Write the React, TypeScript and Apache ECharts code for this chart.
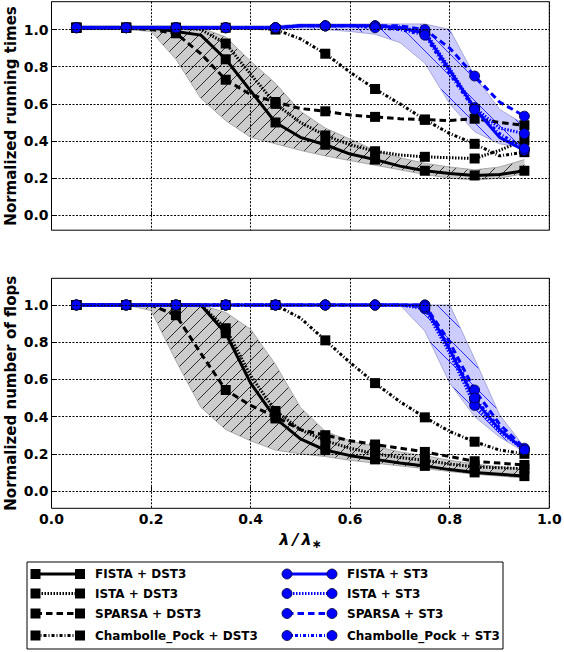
import React, { useEffect, useRef } from "react";
import * as echarts from "echarts";

const X = [0.05, 0.1, 0.15, 0.2, 0.25, 0.3, 0.35, 0.4, 0.45, 0.5, 0.55, 0.6, 0.65, 0.7, 0.75, 0.8, 0.85, 0.9, 0.95];
const Y_TICKS = [0, 0.2, 0.4, 0.6, 0.8, 1.0];

// Normalized running times (top panel)
const FISTA_DST3_TIME = [1.01, 1.01, 1.01, 1.01, 0.99, 0.97, 0.84, 0.67, 0.5, 0.42, 0.38, 0.33, 0.3, 0.265, 0.24, 0.225, 0.215, 0.22, 0.24];
const ISTA_DST3_TIME = [1.01, 1.01, 1.01, 1.01, 1.01, 1.0, 0.925, 0.76, 0.6, 0.5, 0.43, 0.38, 0.345, 0.325, 0.315, 0.31, 0.306, 0.35, 0.405];
const SPARSA_DST3_TIME = [1.01, 1.01, 1.01, 1.0, 0.98, 0.87, 0.73, 0.65, 0.61, 0.575, 0.56, 0.54, 0.53, 0.52, 0.515, 0.51, 0.52, 0.5, 0.485];
const CP_DST3_TIME = [1.01, 1.01, 1.01, 1.01, 1.01, 1.01, 1.01, 1.01, 1.0, 0.95, 0.87, 0.77, 0.68, 0.6, 0.515, 0.44, 0.385, 0.32, 0.34];
const FISTA_ST3_TIME = [1.01, 1.01, 1.01, 1.01, 1.01, 1.01, 1.01, 1.01, 1.01, 1.02, 1.02, 1.02, 1.02, 1.01, 0.98, 0.78, 0.575, 0.42, 0.35];
const ISTA_ST3_TIME = [1.01, 1.01, 1.01, 1.01, 1.01, 1.01, 1.01, 1.01, 1.01, 1.02, 1.02, 1.02, 1.02, 1.01, 0.99, 0.79, 0.58, 0.47, 0.44];
const SPARSA_ST3_TIME = [1.01, 1.01, 1.01, 1.01, 1.01, 1.01, 1.01, 1.01, 1.01, 1.02, 1.02, 1.02, 1.02, 1.02, 1.0, 0.9, 0.75, 0.61, 0.534];
const CP_ST3_TIME = [1.01, 1.01, 1.01, 1.01, 1.01, 1.01, 1.01, 1.01, 1.01, 1.02, 1.02, 1.02, 1.01, 1.0, 0.97, 0.76, 0.57, 0.44, 0.36];
const GREY_LO_TIME = [1.0, 1.0, 1.0, 0.99, 0.84, 0.63, 0.51, 0.42, 0.385, 0.35, 0.32, 0.295, 0.27, 0.245, 0.22, 0.2, 0.19, 0.2, 0.225];
const GREY_HI_TIME = [1.02, 1.02, 1.02, 1.02, 1.02, 1.01, 0.96, 0.83, 0.71, 0.56, 0.47, 0.41, 0.35, 0.31, 0.28, 0.26, 0.245, 0.26, 0.3];
const BLUE_LO_TIME = [1.0, 1.0, 1.0, 1.0, 1.0, 1.0, 1.0, 1.0, 1.0, 1.0, 1.0, 0.99, 0.975, 0.93, 0.82, 0.6, 0.45, 0.385, 0.365];
const BLUE_HI_TIME = [1.02, 1.02, 1.02, 1.02, 1.02, 1.02, 1.02, 1.02, 1.02, 1.03, 1.03, 1.03, 1.03, 1.03, 1.03, 1.0, 0.75, 0.57, 0.49];

// Normalized number of flops (bottom panel)
const FISTA_DST3_FLOPS = [1.0, 1.0, 1.0, 1.0, 1.0, 1.0, 0.848, 0.58, 0.39, 0.28, 0.22, 0.19, 0.17, 0.15, 0.135, 0.115, 0.1, 0.09, 0.08];
const ISTA_DST3_FLOPS = [1.0, 1.0, 1.0, 1.0, 1.0, 1.0, 0.875, 0.62, 0.43, 0.33, 0.27, 0.23, 0.2, 0.18, 0.165, 0.145, 0.13, 0.125, 0.12];
const SPARSA_DST3_FLOPS = [1.0, 1.0, 1.0, 1.0, 0.945, 0.74, 0.543, 0.46, 0.4, 0.33, 0.3, 0.27, 0.25, 0.23, 0.21, 0.185, 0.16, 0.15, 0.14];
const CP_DST3_FLOPS = [1.0, 1.0, 1.0, 1.0, 1.0, 1.0, 1.0, 1.0, 1.0, 0.93, 0.81, 0.69, 0.58, 0.48, 0.396, 0.32, 0.265, 0.22, 0.2];
const FISTA_ST3_FLOPS = [1.0, 1.0, 1.0, 1.0, 1.0, 1.0, 1.0, 1.0, 1.0, 1.0, 1.0, 1.0, 1.0, 1.0, 1.0, 0.76, 0.49, 0.33, 0.22];
const ISTA_ST3_FLOPS = [1.0, 1.0, 1.0, 1.0, 1.0, 1.0, 1.0, 1.0, 1.0, 1.0, 1.0, 1.0, 1.0, 1.0, 0.98, 0.74, 0.46, 0.32, 0.22];
const SPARSA_ST3_FLOPS = [1.0, 1.0, 1.0, 1.0, 1.0, 1.0, 1.0, 1.0, 1.0, 1.0, 1.0, 1.0, 1.0, 1.0, 1.0, 0.8, 0.543, 0.36, 0.23];
const CP_ST3_FLOPS = [1.0, 1.0, 1.0, 1.0, 1.0, 1.0, 1.0, 1.0, 1.0, 1.0, 1.0, 1.0, 1.0, 1.0, 0.99, 0.77, 0.5, 0.34, 0.22];
const GREY_LO_FLOPS = [1.0, 1.0, 1.0, 0.97, 0.7, 0.45, 0.33, 0.27, 0.22, 0.2, 0.185, 0.165, 0.15, 0.135, 0.12, 0.105, 0.09, 0.08, 0.07];
const GREY_HI_FLOPS = [1.0, 1.0, 1.0, 1.0, 1.0, 1.0, 0.96, 0.87, 0.68, 0.45, 0.32, 0.27, 0.24, 0.21, 0.19, 0.165, 0.145, 0.13, 0.12];
const BLUE_LO_FLOPS = [1.0, 1.0, 1.0, 1.0, 1.0, 1.0, 1.0, 1.0, 1.0, 1.0, 1.0, 1.0, 1.0, 1.0, 0.86, 0.58, 0.4, 0.29, 0.21];
const BLUE_HI_FLOPS = [1.0, 1.0, 1.0, 1.0, 1.0, 1.0, 1.0, 1.0, 1.0, 1.0, 1.0, 1.0, 1.0, 1.0, 1.0, 1.0, 0.71, 0.41, 0.235];

const LEGEND_DST3 = ["FISTA + DST3", "ISTA + DST3", "SPARSA + DST3", "Chambolle_Pock + DST3"];
const LEGEND_ST3 = ["FISTA + ST3", "ISTA + ST3", "SPARSA + ST3", "Chambolle_Pock + ST3"];

const FONT = "DejaVu Sans";
const BLUE = "#0000ff";
const DASHES: any[] = ["solid", [1.5, 1.5], [6.5, 4], [3, 2, 1, 2]];
const GRID_DASH = [2, 1.5];

function hatchTile(size: number, bg: string, stroke: string, forward: boolean) {
  const T = size;
  const d = forward
    ? `M-3,${T + 3} L${T + 3},-3 M-3,3 L3,-3 M${T - 3},${T + 3} L${T + 3},${T - 3}`
    : `M-3,-3 L${T + 3},${T + 3} M-3,${T - 3} L3,${T + 3} M${T - 3},-3 L${T + 3},3`;
  const svg = `<svg xmlns='http://www.w3.org/2000/svg' width='${T}' height='${T}'><rect width='${T}' height='${T}' fill='${bg}'/><path d='${d}' stroke='${stroke}' stroke-width='0.8' fill='none'/></svg>`;
  return {
    image: "data:image/svg+xml;charset=utf-8," + encodeURIComponent(svg),
    repeat: "repeat",
    imageWidth: T,
    imageHeight: T,
  };
}

function pairs(vals: number[]) {
  return X.map((x, i) => [x, vals[i]]);
}

function lineSeries(name: string, vals: number[], idx: number, dash: any, blue: boolean) {
  const color = blue ? BLUE : "#000";
  return {
    type: "line",
    name,
    xAxisIndex: idx,
    yAxisIndex: idx,
    data: pairs(vals),
    symbol: blue ? "circle" : "rect",
    symbolSize: (_v: any, p: any) => (p.dataIndex % 2 === 0 ? 10 : 0),
    showSymbol: true,
    showAllSymbol: true,
    lineStyle: { color, width: 3, type: dash },
    itemStyle: { color, borderColor: blue ? "#000033" : "#000", borderWidth: blue ? 0.8 : 0 },
    z: blue ? 4 : 3,
    silent: true,
  };
}

function bandSeries(lo: number[], hi: number[], idx: number, pattern: any, edge: string, withGrid: boolean) {
  const s: any = {
    type: "custom",
    xAxisIndex: idx,
    yAxisIndex: idx,
    data: X.map((x, i) => [x, lo[i], hi[i]]),
    encode: { x: 0, y: [1, 2] },
    silent: true,
    z: 1,
    renderItem: (params: any, api: any) => {
      if (params.dataIndex !== 0) return null;
      const top = X.map((x, j) => api.coord([x, hi[j]]));
      const bot = X.map((x, j) => api.coord([x, lo[j]]));
      const poly = top.concat(bot.slice().reverse());
      return {
        type: "group",
        children: [
          { type: "polygon", shape: { points: poly }, style: { fill: pattern, stroke: "none" } },
          { type: "polyline", shape: { points: top }, style: { fill: "none", stroke: edge, lineWidth: 1 } },
          { type: "polyline", shape: { points: bot }, style: { fill: "none", stroke: edge, lineWidth: 1 } },
        ],
      };
    },
  };
  if (withGrid) {
    s.markLine = {
      silent: true,
      symbol: ["none", "none"],
      label: { show: false },
      lineStyle: { color: "#000", width: 1, type: GRID_DASH },
      data: Y_TICKS.map((v) => ({ yAxis: v })),
    };
  }
  return s;
}

function xAxisCfg(idx: number, labels: boolean) {
  return {
    type: "value",
    gridIndex: idx,
    min: 0,
    max: 1,
    interval: 0.2,
    axisLine: { show: false },
    axisTick: { show: true, inside: true, length: 4, lineStyle: { color: "#000" } },
    axisLabel: {
      show: labels,
      margin: 4,
      color: "#000",
      fontFamily: FONT,
      fontWeight: "bold",
      fontSize: 14,
      formatter: (v: number) => v.toFixed(1),
    },
    splitLine: { show: true, lineStyle: { color: "#000", width: 1, type: GRID_DASH } },
    ...(labels
      ? {
          name: "{a|λ\u2009/\u2009λ}{b|∗}",
          nameLocation: "middle",
          nameGap: 21,
          nameMoveOverlap: false,
          nameTextStyle: {
            color: "#000",
            rich: {
              a: { fontFamily: FONT, fontSize: 16, fontWeight: "bold", fontStyle: "italic", color: "#000" },
              b: { fontFamily: FONT, fontSize: 12, fontWeight: "bold", color: "#000", padding: [9, 0, 0, 0] },
            },
          },
        }
      : {}),
  };
}

function yAxisCfg(idx: number, min: number, max: number, name: string) {
  return {
    type: "value",
    gridIndex: idx,
    min,
    max,
    name,
    nameLocation: "middle",
    nameGap: 33,
    nameMoveOverlap: false,
    nameTextStyle: { color: "#000", fontFamily: FONT, fontWeight: "bold", fontSize: 15, lineHeight: 15 },
    axisLine: { show: false },
    axisTick: { show: true, inside: true, length: 4, customValues: Y_TICKS, lineStyle: { color: "#000" } },
    axisLabel: {
      show: true,
      margin: 3,
      color: "#000",
      fontFamily: FONT,
      fontWeight: "bold",
      fontSize: 14,
      customValues: Y_TICKS,
      formatter: (v: number) => v.toFixed(1),
    },
    splitLine: { show: false },
  };
}

function legendGraphics() {
  const rows = [574, 593.5, 613.5, 635.5];
  const els: any[] = [
    { type: "rect", shape: { x: 27, y: 562, width: 476, height: 87 }, style: { fill: "#fff", stroke: "#000", lineWidth: 1 }, z: 100 },
  ];
  rows.forEach((y, i) => {
    els.push({
      type: "line",
      shape: { x1: 35.5, y1: y, x2: 80, y2: y },
      style: { stroke: "#000", lineWidth: 3, lineDash: i === 0 ? null : DASHES[i] },
      z: 101,
    });
    els.push({ type: "rect", shape: { x: 30.5, y: y - 5, width: 10, height: 10 }, style: { fill: "#000" }, z: 102 });
    els.push({ type: "rect", shape: { x: 75, y: y - 5, width: 10, height: 10 }, style: { fill: "#000" }, z: 102 });
    els.push({
      type: "text",
      x: 95,
      y,
      style: { text: LEGEND_DST3[i], fill: "#000", font: `bold 12px '${FONT}'`, verticalAlign: "middle", align: "left" },
      z: 102,
    });
    els.push({
      type: "line",
      shape: { x1: 287, y1: y, x2: 332, y2: y },
      style: { stroke: BLUE, lineWidth: 3, lineDash: i === 0 ? null : DASHES[i] },
      z: 101,
    });
    els.push({ type: "circle", shape: { cx: 287, cy: y, r: 5 }, style: { fill: BLUE, stroke: "#000033", lineWidth: 0.8 }, z: 102 });
    els.push({ type: "circle", shape: { cx: 332, cy: y, r: 5 }, style: { fill: BLUE, stroke: "#000033", lineWidth: 0.8 }, z: 102 });
    els.push({
      type: "text",
      x: 347,
      y,
      style: { text: LEGEND_ST3[i], fill: "#000", font: `bold 12px '${FONT}'`, verticalAlign: "middle", align: "left" },
      z: 102,
    });
  });
  return els;
}

export default function App() {
  const ref = useRef<HTMLDivElement>(null);
  useEffect(() => {
    if (!ref.current) return;
    const chart = echarts.init(ref.current, undefined, { renderer: "svg" });
    const greyPat = hatchTile(13, "rgba(0,0,0,0.2)", "#000", true);
    const bluePat = hatchTile(22, "rgba(0,0,255,0.2)", "#0000ff", false);
    const series: any[] = [
      bandSeries(GREY_LO_TIME, GREY_HI_TIME, 0, greyPat, "#a8a8a8", true),
      bandSeries(BLUE_LO_TIME, BLUE_HI_TIME, 0, bluePat, "#a8a8d8", false),
      bandSeries(GREY_LO_FLOPS, GREY_HI_FLOPS, 1, greyPat, "#a8a8a8", true),
      bandSeries(BLUE_LO_FLOPS, BLUE_HI_FLOPS, 1, bluePat, "#a8a8d8", false),
      lineSeries(LEGEND_DST3[0], FISTA_DST3_TIME, 0, DASHES[0], false),
      lineSeries(LEGEND_DST3[1], ISTA_DST3_TIME, 0, DASHES[1], false),
      lineSeries(LEGEND_DST3[2], SPARSA_DST3_TIME, 0, DASHES[2], false),
      lineSeries(LEGEND_DST3[3], CP_DST3_TIME, 0, DASHES[3], false),
      lineSeries(LEGEND_ST3[0], FISTA_ST3_TIME, 0, DASHES[0], true),
      lineSeries(LEGEND_ST3[1], ISTA_ST3_TIME, 0, DASHES[1], true),
      lineSeries(LEGEND_ST3[2], SPARSA_ST3_TIME, 0, DASHES[2], true),
      lineSeries(LEGEND_ST3[3], CP_ST3_TIME, 0, DASHES[3], true),
      lineSeries(LEGEND_DST3[0], FISTA_DST3_FLOPS, 1, DASHES[0], false),
      lineSeries(LEGEND_DST3[1], ISTA_DST3_FLOPS, 1, DASHES[1], false),
      lineSeries(LEGEND_DST3[2], SPARSA_DST3_FLOPS, 1, DASHES[2], false),
      lineSeries(LEGEND_DST3[3], CP_DST3_FLOPS, 1, DASHES[3], false),
      lineSeries(LEGEND_ST3[0], FISTA_ST3_FLOPS, 1, DASHES[0], true),
      lineSeries(LEGEND_ST3[1], ISTA_ST3_FLOPS, 1, DASHES[1], true),
      lineSeries(LEGEND_ST3[2], SPARSA_ST3_FLOPS, 1, DASHES[2], true),
      lineSeries(LEGEND_ST3[3], CP_ST3_FLOPS, 1, DASHES[3], true),
    ];
    chart.setOption({
      animation: false,
      backgroundColor: "#fff",
      grid: [
        { left: 51.5, top: 1.7, width: 497.8, height: 228.5, show: true, borderColor: "#000", borderWidth: 1, backgroundColor: "transparent", outerBoundsMode: "none", containLabel: false },
        { left: 51.5, top: 278.3, width: 497.8, height: 230, show: true, borderColor: "#000", borderWidth: 1, backgroundColor: "transparent", outerBoundsMode: "none", containLabel: false },
      ],
      xAxis: [xAxisCfg(0, false), xAxisCfg(1, true)],
      yAxis: [
        yAxisCfg(0, -0.08, 1.15, "Normalized running times"),
        yAxisCfg(1, -0.093, 1.1435, "Normalized number of flops"),
      ],
      series,
      graphic: { elements: legendGraphics() },
    });
    return () => chart.dispose();
  }, []);
  return <div ref={ref} style={{ position: "absolute", left: 0, top: 0, width: 564, height: 652 }} />;
}
